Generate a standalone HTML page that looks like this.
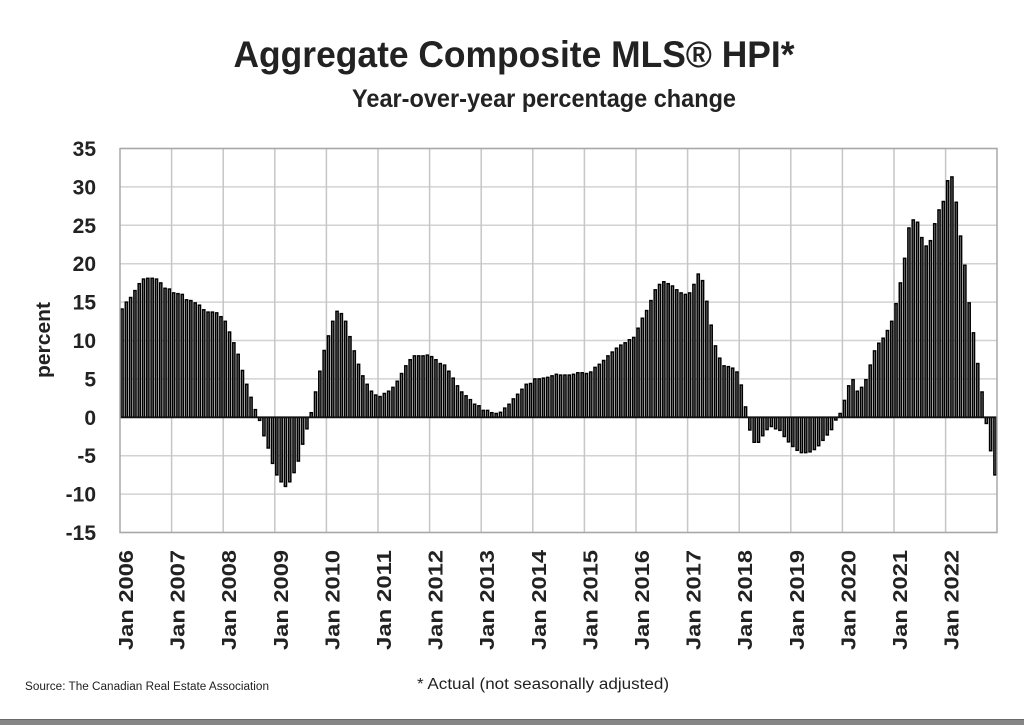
<!DOCTYPE html>
<html>
<head>
<meta charset="utf-8">
<style>
html,body{margin:0;padding:0;background:#fff;}
svg{display:block;}
text{font-family:"Liberation Sans",Arial,sans-serif;}
</style>
</head>
<body>
<svg id="c" xmlns="http://www.w3.org/2000/svg" width="1024" height="725" viewBox="0 0 1024 725">
<rect x="0" y="0" width="1024" height="725" fill="#fff"/>
<text x="514" y="67" font-size="37" font-weight="bold" fill="#222" text-anchor="middle" textLength="561" lengthAdjust="spacingAndGlyphs">Aggregate Composite MLS® HPI*</text>
<text x="352" y="107" font-size="25" font-weight="bold" fill="#222" textLength="384" lengthAdjust="spacingAndGlyphs">Year-over-year percentage change</text>
<g id="grid"></g>
<g id="bars"></g>
<line x1="120" y1="417.3" x2="997" y2="417.3" stroke="#111" stroke-width="1.8"/>
<rect x="120" y="148.5" width="877" height="384" fill="none" stroke="#a8a8a8" stroke-width="1.5"/>
<g id="ylab" font-size="21" font-weight="bold" fill="#222" text-anchor="end"></g>
<text transform="translate(50,340) rotate(-90)" font-size="20" font-weight="bold" fill="#222" text-anchor="middle" textLength="76" lengthAdjust="spacingAndGlyphs">percent</text>
<g id="xlab" font-size="20" font-weight="bold" fill="#222"></g>
<text x="25" y="690" font-size="11.5" fill="#222" textLength="244" lengthAdjust="spacingAndGlyphs">Source: The Canadian Real Estate Association</text>
<text x="417" y="689" font-size="15.5" fill="#222" textLength="252" lengthAdjust="spacingAndGlyphs">* Actual (not seasonally adjusted)</text>
<rect x="0" y="719" width="1024" height="6" fill="#868686"/>
<line x1="0" y1="719.5" x2="1024" y2="719.5" stroke="#6a6a6a" stroke-width="1"/>
</svg>
<script>
(function(){
var NS="http://www.w3.org/2000/svg";
var data=[
14.1,15.0,15.6,16.5,17.4,18.0,18.1,18.1,18.0,17.5,16.8,16.7,
16.2,16.1,16.0,15.3,15.2,14.9,14.6,14.0,13.7,13.7,13.6,13.1,
12.5,11.1,9.7,8.2,6.1,4.3,2.6,1.0,-0.4,-2.4,-4.0,-6.0,
-7.5,-8.4,-9.0,-8.4,-7.2,-5.7,-3.5,-1.5,0.6,3.3,6.0,8.7,
10.6,12.5,13.8,13.5,12.5,10.5,8.65,6.9,5.4,4.3,3.4,2.9,
2.7,3.1,3.4,3.9,4.7,5.7,6.7,7.5,8.0,8.0,8.0,8.1,
7.9,7.5,7.0,6.8,6.0,5.1,4.1,3.3,2.8,2.3,1.7,1.5,
0.9,0.9,0.6,0.5,0.65,1.2,1.7,2.4,3.0,3.65,4.3,4.4,
5.0,5.0,5.1,5.2,5.4,5.6,5.5,5.5,5.5,5.6,5.8,5.8,
5.7,5.9,6.5,6.9,7.4,8.0,8.5,9.0,9.4,9.7,10.1,10.4,
11.6,12.9,13.9,15.2,16.6,17.3,17.65,17.4,17.1,16.6,16.2,16.0,
16.2,17.3,18.65,17.8,15.1,12.0,9.3,7.7,6.7,6.6,6.4,5.9,
4.2,1.35,-1.65,-3.25,-3.25,-2.4,-1.6,-1.2,-1.5,-1.7,-2.5,-3.2,
-3.8,-4.3,-4.6,-4.6,-4.5,-4.2,-3.7,-3.0,-2.3,-1.6,-0.35,0.5,
2.2,4.1,4.9,3.4,3.9,4.9,6.8,8.65,9.65,10.3,11.3,12.5,
14.8,17.5,20.7,24.65,25.7,25.4,23.4,22.3,23.0,25.2,27.0,28.1,
30.8,31.3,28.0,23.6,19.8,14.9,11.0,7.0,3.3,-0.8,-4.35,-7.5];
var X0=120,Y0=417.3,S=7.68,W=4.3;
function el(n,a,p,t){var e=document.createElementNS(NS,n);for(var k in a)e.setAttribute(k,a[k]);if(t!=null)e.textContent=t;p.appendChild(e);return e;}
var grid=document.getElementById("grid");
for(var v=-15;v<=35;v+=5){var y=Y0-v*S;el("line",{x1:120,x2:997,y1:y,y2:y,stroke:"#d2d2d2","stroke-width":1.5},grid);}
for(var k=1;k<17;k++){var x=X0+k*51.6;el("line",{x1:x,x2:x,y1:148.5,y2:532.5,stroke:"#c6c6c6","stroke-width":1.5},grid);}
var bars=document.getElementById("bars");
for(var i=0;i<data.length;i++){var v=data[i];var x=X0+i*W+0.95;var h=Math.abs(v)*S;var y=v>=0?Y0-h:Y0;
el("rect",{x:x.toFixed(2),y:y.toFixed(2),width:2.2,height:Math.max(h,0.3).toFixed(2),fill:"#808080",stroke:"#000","stroke-width":1.45},bars);}
var yl=document.getElementById("ylab");
for(var v=-15;v<=35;v+=5){var y=Y0-v*S;el("text",{x:96,y:(y+7.5).toFixed(1)},yl,String(v));}
var xl=document.getElementById("xlab");
for(var k=0;k<17;k++){var bx=X0+k*51.6+13;el("text",{transform:"translate("+bx.toFixed(1)+",550) rotate(-90)","text-anchor":"end",textLength:100,lengthAdjust:"spacingAndGlyphs"},xl,"Jan "+(2006+k));}
})();
</script>
</body>
</html>
